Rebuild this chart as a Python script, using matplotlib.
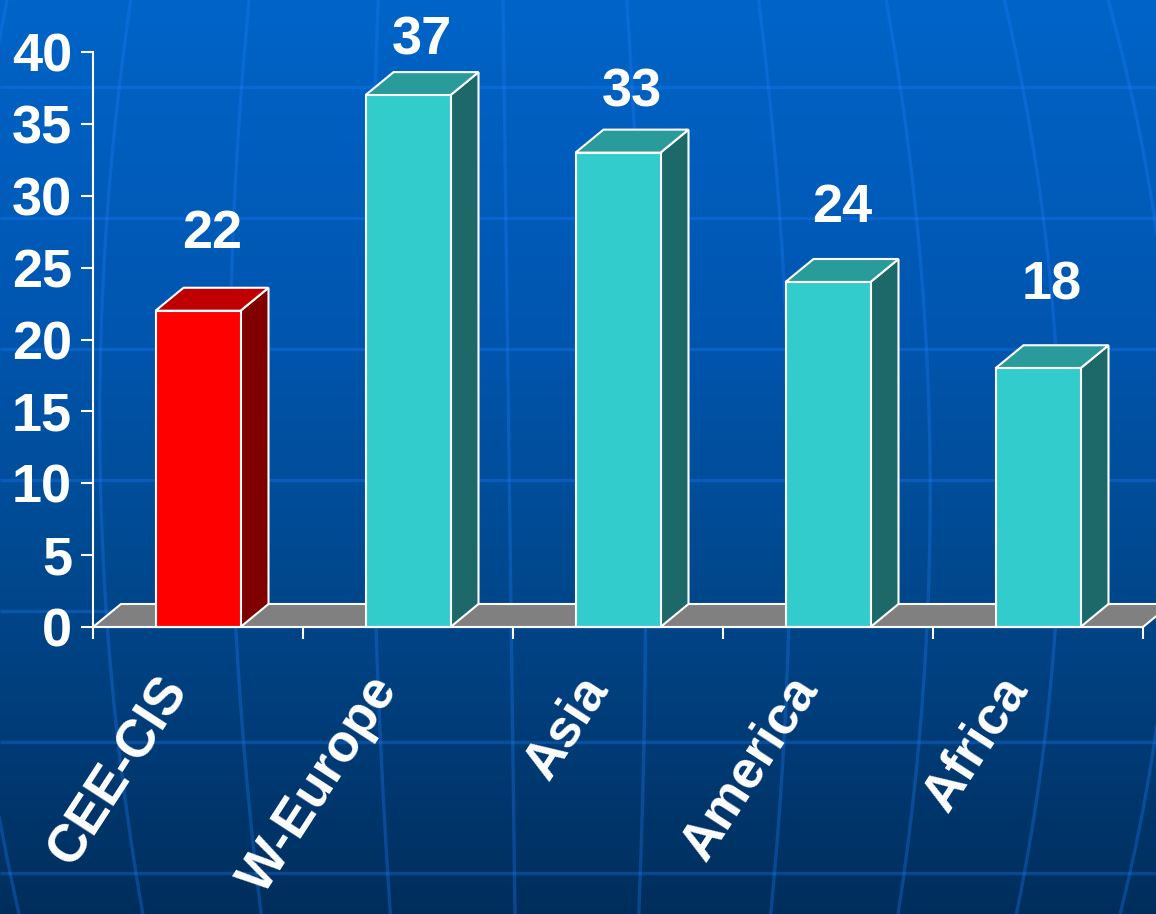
import numpy as np
import matplotlib
matplotlib.use("Agg")
import matplotlib.pyplot as plt
from matplotlib.patches import Polygon
from matplotlib.colors import LinearSegmentedColormap

# ---- data -------------------------------------------------------------
categories = ["CEE-CIS", "W-Europe", "Asia", "America", "Africa"]
values = [22, 37, 33, 24, 18]
y_ticks = [0, 5, 10, 15, 20, 25, 30, 35, 40]

# ---- styling ----------------------------------------------------------
FRONT = ["#FF0000", "#33CCCC", "#33CCCC", "#33CCCC", "#33CCCC"]
TOP = ["#C00000", "#2A9B9B", "#2A9B9B", "#2A9B9B", "#2A9B9B"]
SIDE = ["#800000", "#1D6868", "#1D6868", "#1D6868", "#1D6868"]
FLOOR = "#808080"
FONT = ["Liberation Sans", "DejaVu Sans"]

W, H, DPI = 1156, 914, 100
fig = plt.figure(figsize=(W / DPI, H / DPI), dpi=DPI)

# ---- background: blue gradient with globe grid ------------------------
bg = fig.add_axes([0, 0, 1, 1], zorder=0)
bg.set_xlim(0, W)
bg.set_ylim(H, 0)
bg.axis("off")
sky = LinearSegmentedColormap.from_list(
    "sky",
    [(0.0, "#0064C8"), (0.33, "#0057B2"), (0.6, "#004A92"),
     (0.8, "#003C78"), (1.0, "#002E5C")],
)
bg.imshow(np.linspace(0, 1, 512)[:, None], cmap=sky, extent=[0, W, H, 0],
          aspect="auto", interpolation="bicubic")

grid_kw = dict(color="#2080FF", alpha=0.3, lw=2.4, solid_capstyle="butt")
for k in range(7):
    bg.axhline(87 + 131 * k, **grid_kw)
yy = np.linspace(0, H, 300)
for d in [-545, -409, -279, -137, 0, 136, 281, 421, 551, 665]:
    xx = 509 + d + 12 * (yy - 457) / H - 0.09 * d * ((yy - 457) / 457) ** 2
    bg.plot(xx, yy, **grid_kw)

# ---- chart axes ---------------------------------------------------------
ax = fig.add_axes([93 / W, (H - 627) / H, 1050 / W, 575 / H], zorder=1)
ax.patch.set_visible(False)
ax.set_xlim(-0.5, len(categories) - 0.5)
ax.set_ylim(0, 40)

x = np.arange(len(categories))
BAR_W = 85 / 210          # front face width, in category units
DX = 28 / 210             # depth offset along x
DY = 23 / (575 / 40)      # depth offset along y

# floor
x0, x1 = -0.5, len(categories) - 0.5
ax.fill([x0, x1, x1 + DX, x0 + DX], [0, 0, DY, DY], facecolor=FLOOR,
        edgecolor="white", lw=1.5, clip_on=False, zorder=2)

# bars: front faces from the library, side and top faces as polygons
ax.bar(x, values, width=BAR_W, color=FRONT, edgecolor="white",
       linewidth=1.5, zorder=4, clip_on=False)
for xi, v, ct, cs in zip(x, values, TOP, SIDE):
    l, r = xi - BAR_W / 2, xi + BAR_W / 2
    ax.add_patch(Polygon([(r, 0), (r + DX, DY), (r + DX, v + DY), (r, v)],
                         closed=True, facecolor=cs, edgecolor="white",
                         lw=1.5, zorder=3, clip_on=False))
    ax.add_patch(Polygon([(l, v), (r, v), (r + DX, v + DY), (l + DX, v + DY)],
                         closed=True, facecolor=ct, edgecolor="white",
                         lw=1.5, zorder=3, clip_on=False))

# value labels above the bars
LABEL_BASE, LABEL_GAIN = 6.68, 0.895
for xi, v in zip(x, values):
    ax.text(xi + DX / 2, LABEL_BASE + LABEL_GAIN * v, str(v), ha="center",
            va="baseline", color="white", fontsize=39, fontweight="bold",
            family=FONT, clip_on=False, zorder=6)

# category labels
for xi, name in zip(x, categories):
    ax.text(xi + 0.0, -2.8, name, rotation=57, ha="right", va="top",
            color="white", fontsize=38, fontweight="bold", family=FONT,
            clip_on=False, zorder=6)

# axes styling
for s in ("top", "right"):
    ax.spines[s].set_visible(False)
for s in ("left", "bottom"):
    ax.spines[s].set_color("white")
    ax.spines[s].set_linewidth(1.5)
    ax.spines[s].set_zorder(5)

ax.set_yticks(y_ticks)
ax.set_yticklabels([str(t) for t in y_ticks])
ax.tick_params(axis="y", colors="white", length=8.6, width=1.5, pad=6.5,
               labelsize=39)
for t in ax.get_yticklabels():
    t.set_fontweight("bold")
    t.set_family(FONT)

ax.set_xticks(np.arange(-0.5, len(categories), 1.0))
ax.set_xticklabels([])
ax.tick_params(axis="x", colors="white", length=8.6, width=1.5)

fig.savefig("out.png", dpi=DPI)
